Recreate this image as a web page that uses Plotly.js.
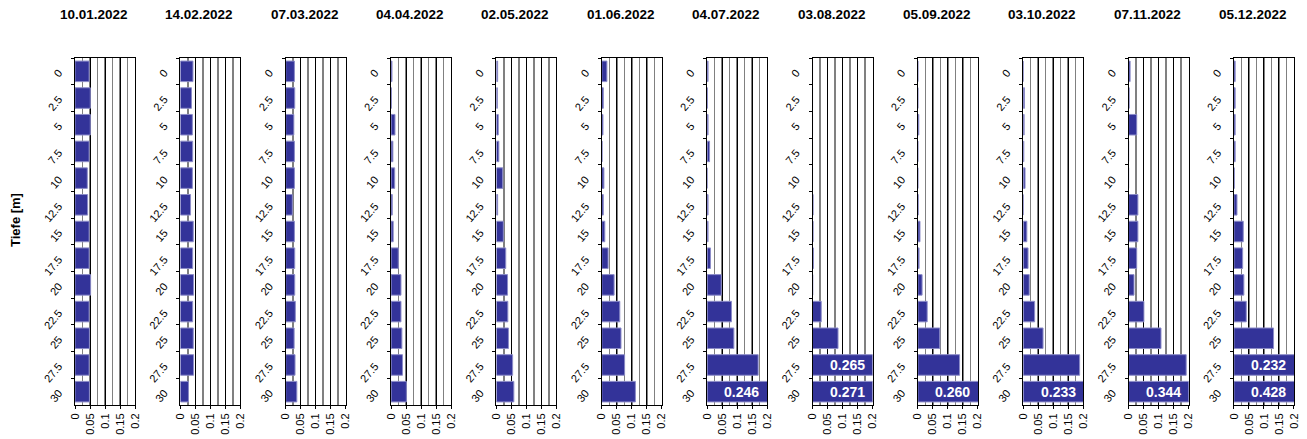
<!DOCTYPE html>
<html>
<head>
<meta charset="utf-8">
<script src="https://cdn.plot.ly/plotly-3.0.1.min.js"></script>
<style>html,body{margin:0;padding:0;background:#fff;}#chart{width:1307px;height:439px;}</style>
</head>
<body>
<div id="chart"></div>
<script>
// ---- data ----
const depths = ['0','2.5','5','7.5','10','12.5','15','17.5','20','22.5','25','27.5','30'];
const dates = ['10.01.2022','14.02.2022','07.03.2022','04.04.2022','02.05.2022','01.06.2022',
               '04.07.2022','03.08.2022','05.09.2022','03.10.2022','07.11.2022','05.12.2022'];
const d20220110 = [0.047,0.051,0.051,0.047,0.041,0.042,0.047,0.047,0.052,0.047,0.048,0.047,0.048];
const d20220214 = [0.042,0.037,0.040,0.041,0.040,0.034,0.043,0.041,0.044,0.041,0.043,0.044,0.027];
const d20220307 = [0.029,0.030,0.027,0.029,0.029,0.022,0.029,0.030,0.030,0.032,0.028,0.031,0.037];
const d20220404 = [0.003,0.001,0.013,0.006,0.012,0.004,0.007,0.024,0.033,0.033,0.036,0.038,0.051];
const d20220502 = [0.004,0.003,0.006,0.008,0.021,0.004,0.023,0.031,0.037,0.038,0.040,0.054,0.058];
const d20220601 = [0.017,0.005,0.004,0.001,0.007,0.005,0.010,0.021,0.041,0.060,0.064,0.076,0.112];
const d20220704 = [0.003,0.001,0.003,0.008,0.000,0.003,0.003,0.011,0.047,0.081,0.089,0.170,0.246];
const d20220803 = [0.000,0.000,0.000,0.000,0.000,0.002,0.002,0.003,0.001,0.029,0.085,0.265,0.271];
const d20220905 = [0.000,0.000,0.003,0.000,0.000,0.001,0.007,0.004,0.014,0.031,0.073,0.139,0.260];
const d20221003 = [0.000,0.004,0.003,0.002,0.006,0.000,0.012,0.016,0.020,0.038,0.066,0.188,0.233];
const d20221107 = [0.005,0.002,0.027,0.000,0.000,0.031,0.031,0.027,0.018,0.051,0.108,0.192,0.344];
const d20221205 = [0.004,0.004,0.004,0.004,0.001,0.010,0.031,0.029,0.033,0.041,0.132,0.232,0.428];
const series = [d20220110,d20220214,d20220307,d20220404,d20220502,d20220601,
                d20220704,d20220803,d20220905,d20221003,d20221107,d20221205];
const xTickVals = [0,0.05,0.1,0.15,0.2];
const xTickText = ['0','0.05','0.1','0.15','0.2'];
const yTitle = 'Tiefe [m]';
const xMax = 0.2;

// ---- layout ----
const W = 1307, H = 439;
const FONT = 'Liberation Sans, Arial, sans-serif';
const panelLeft0 = 75, panelStep = 105.36, panelW = 60;
const plotTop = 58, plotBottom = 405;
const yDom = [(H - plotBottom) / H, (H - plotTop) / H];

const traces = [];
const layout = {
  width: W, height: H,
  margin: {l: 0, r: 0, t: 0, b: 0},
  paper_bgcolor: '#fff', plot_bgcolor: '#fff',
  showlegend: false,
  bargap: 0.23,
  font: {family: FONT, size: 11, color: '#000'},
  annotations: []
};

series.forEach((vals, i) => {
  const n = i + 1;
  const xk = 'xaxis' + (n === 1 ? '' : n);
  const yk = 'yaxis' + (n === 1 ? '' : n);
  const xr = 'x' + (n === 1 ? '' : n);
  const yr = 'y' + (n === 1 ? '' : n);
  const left = panelLeft0 + i * panelStep;
  traces.push({
    type: 'bar', orientation: 'h',
    x: vals, y: depths,
    xaxis: xr, yaxis: yr,
    marker: {color: '#333399', line: {color: '#8c8cc8', width: 1}},
    hoverinfo: 'x+y'
  });
  layout[xk] = {
    domain: [left / W, (left + panelW) / W],
    anchor: yr,
    range: [0, xMax],
    fixedrange: true,
    tickmode: 'array', tickvals: xTickVals, ticktext: xTickText,
    tickangle: -90,
    ticks: 'outside', ticklen: 3, tickcolor: '#000', tickwidth: 1,
    tickfont: {family: FONT, size: 11, color: '#000'},
    showgrid: true, gridcolor: '#000', gridwidth: 1,
    minor: {dtick: 0.025, tick0: 0, showgrid: true, gridcolor: '#808080', gridwidth: 1.5},
    zeroline: false,
    showline: true, linecolor: '#000', linewidth: 1, mirror: true
  };
  layout[yk] = {
    domain: yDom,
    anchor: xr,
    type: 'category',
    categoryorder: 'array', categoryarray: depths,
    range: [depths.length - 0.5, -0.5],
    autorange: false,
    fixedrange: true,
    tickangle: -50,
    ticks: 'outside', ticklen: 3, tickcolor: '#000', tickwidth: 1,
    tickson: 'boundaries',
    ticklabelstandoff: 13,
    tickfont: {family: FONT, size: 11, color: '#000'},
    showgrid: false, zeroline: false,
    showline: true, linecolor: '#000', linewidth: 1, mirror: true
  };
  // panel title
  layout.annotations.push({
    xref: 'paper', yref: 'paper',
    x: (left + panelW / 2 - 11) / W, y: (H - 15) / H,
    xanchor: 'center', yanchor: 'middle',
    text: '<b>' + dates[i] + '</b>', showarrow: false,
    font: {family: FONT, size: 13.5, color: '#000'}
  });
  // labels for values exceeding axis range
  vals.forEach((v, k) => {
    if (v > xMax) {
      layout.annotations.push({
        xref: xr, yref: yr,
        x: xMax * 0.905, y: k,
        xanchor: 'right', yanchor: 'middle',
        text: '<b>' + v.toFixed(3) + '</b>', showarrow: false,
        font: {family: FONT, size: 14, color: '#fff'}
      });
    }
  });
});

layout.annotations.push({
  xref: 'paper', yref: 'paper',
  x: 16 / W, y: (H - 220) / H,
  xanchor: 'center', yanchor: 'middle',
  text: '<b>' + yTitle + '</b>', textangle: -90, showarrow: false,
  font: {family: FONT, size: 13, color: '#000'}
});

Plotly.newPlot('chart', traces, layout, {displayModeBar: false, staticPlot: true});
</script>
</body>
</html>
